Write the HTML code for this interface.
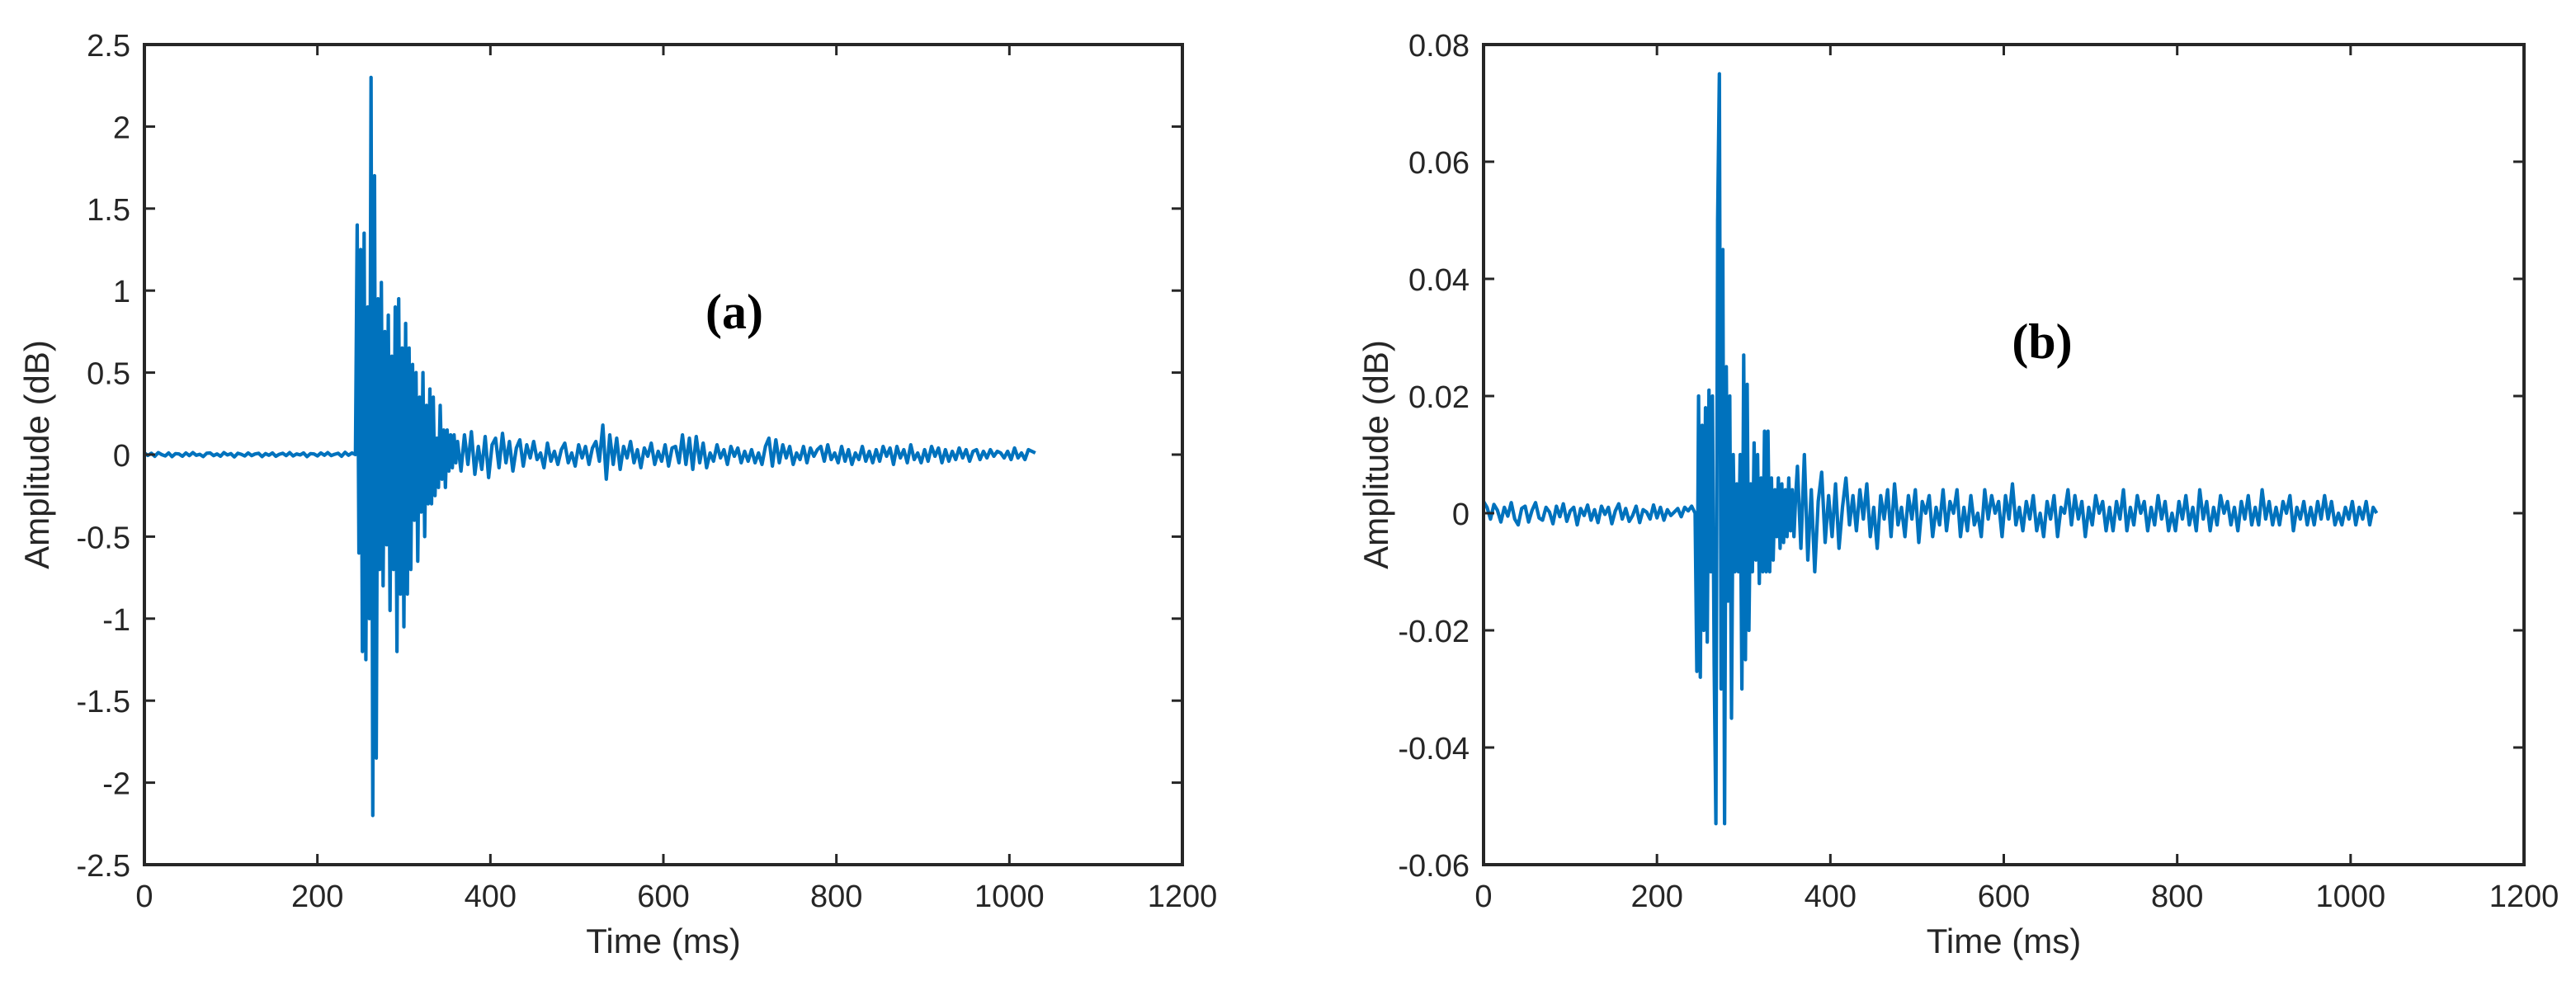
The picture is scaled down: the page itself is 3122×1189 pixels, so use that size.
<!DOCTYPE html>
<html><head><meta charset="utf-8"><style>
html,body{margin:0;padding:0;background:#fff;}
svg{display:block;}
text{font-family:"Liberation Sans",Arial,sans-serif;fill:#262626;}
</style></head><body>
<svg id="fig" width="3122" height="1189" viewBox="0 0 3122 1189" xmlns="http://www.w3.org/2000/svg"></svg>
<script>
// ---------- data ----------
const xTicks = [0,200,400,600,800,1000,1200];
const yTicksA = [-2.5,-2,-1.5,-1,-0.5,0,0.5,1,1.5,2,2.5];
const yTickLabelsA = ["-2.5","-2","-1.5","-1","-0.5","0","0.5","1","1.5","2","2.5"];
const yTicksB = [-0.06,-0.04,-0.02,0,0.02,0.04,0.06,0.08];
const yTickLabelsB = ["-0.06","-0.04","-0.02","0","0.02","0.04","0.06","0.08"];

// segment definitions: pre-onset (0..244 step 4), burst (244..360 step 2), tail (362.. step 4)
const preStart = 0, preStep = 4;
const burstStart = 244, burstStep = 2;
const tailStart = 362, tailStep = 4;

const preA = [0.01,-0.005,0.008,-0.01,0.012,0,-0.008,0.01,-0.012,0.006,0.004,-0.01,0.01,-0.006,0.012,-0.004,0.002,-0.012,0.008,0.01,-0.006,0.004,-0.01,0.012,-0.002,0.006,-0.014,0.008,0.002,-0.008,0.01,-0.006,0.004,0.008,-0.012,0.006,-0.004,0.01,-0.01,0.002,0.008,-0.006,0.012,-0.008,0.004,-0.002,0.01,-0.012,0.006,0.004,-0.008,0.01,-0.004,0.012,-0.006,0.002,0.008,-0.01,0.014,-0.004,0.01];
const burstA = [0,1.4,-0.6,1.25,-1.2,1.35,-1.25,0.9,-1.0,2.3,-2.2,1.7,-1.85,0.95,-0.7,1.05,-0.8,0.75,-0.55,0.85,-0.95,0.6,-0.7,0.9,-1.2,0.95,-0.85,0.65,-1.05,0.8,-0.85,0.65,-0.7,0.55,-0.4,0.5,-0.65,0.35,-0.35,0.5,-0.5,0.3,-0.3,0.4,-0.3,0.35,-0.25,0.1,-0.2,0.3,-0.15,0.15,-0.2,0.15,-0.1,0.12,-0.08,0.12,-0.05];
const tailA = [0.08,-0.1,0.12,-0.06,0.14,-0.12,0.05,-0.09,0.11,-0.14,0.06,0.1,-0.08,0.13,-0.05,0.08,-0.1,0.04,0.09,-0.07,0.06,-0.02,0.08,-0.03,0.01,-0.08,0.07,-0.04,0.02,-0.06,0.03,0.07,-0.05,0.01,-0.07,0.06,-0.02,0.05,-0.06,0.04,0.08,-0.04,0.18,-0.15,0.12,-0.06,0.1,-0.09,0.05,-0.02,0.08,-0.05,0.03,-0.08,0.04,-0.01,0.07,-0.06,0.02,-0.04,0.06,-0.07,0.04,0.05,-0.05,0.12,-0.06,0.1,-0.09,0.11,-0.05,0.07,-0.08,0.01,-0.04,0.06,-0.02,0.03,-0.06,0.05,-0.01,0.04,-0.05,0.02,-0.04,0.03,-0.05,0.01,-0.06,0.05,0.1,-0.07,0.09,-0.05,0.06,-0.02,0.05,-0.06,0.01,-0.03,0.05,-0.05,0.04,-0.01,0.03,0.05,-0.04,0.06,-0.03,0.01,-0.05,0.05,-0.04,0.03,-0.06,0.01,-0.03,0.05,-0.04,0.02,-0.05,0.03,-0.04,0.05,-0.01,0.04,-0.06,0.05,-0.02,0.03,-0.05,0.06,-0.03,0.01,-0.05,0.03,-0.04,0.05,-0.01,0.04,-0.05,0.03,-0.04,0.02,-0.03,0.04,-0.02,0.03,-0.04,0.02,0.03,-0.03,0.02,-0.02,0.03,-0.01,0.02,0.01,-0.02,0.02,-0.03,0.04,-0.02,0.01,-0.03,0.03,0.02,0.01];

const preB = [0.002,0.001,-0.001,0.0015,0.0005,-0.0015,0.001,-0.0005,0.0018,-0.001,-0.002,0.0008,0.0012,-0.0015,0.0005,0.0018,-0.0008,-0.0012,0.001,0.0002,-0.0018,0.0012,-0.0006,0.0016,-0.0014,0.0004,0.001,-0.002,0.0008,-0.0004,0.0014,-0.0012,0.0006,-0.0016,0.0012,-0.0002,0.001,-0.0018,0.0004,0.0016,-0.001,0.0008,-0.0014,-0.0004,0.0012,-0.0016,0.0006,0.0002,-0.001,0.0014,-0.0008,0.001,-0.0012,0.0006,-0.0004,0.0002,0.0008,-0.0006,0.001,0.0004,0.0012];
const burstB = [0,-0.027,0.02,-0.028,0.015,-0.02,0.018,-0.022,0.021,-0.01,0.02,-0.026,-0.053,0.05,0.075,-0.03,0.045,-0.053,0.025,-0.015,0.02,-0.035,0.01,-0.01,0.005,-0.01,0.01,-0.03,0.027,-0.025,0.022,-0.02,0.005,-0.01,0.012,-0.008,0.01,-0.012,0.006,-0.01,0.014,-0.01,0.014,-0.01,0.006,-0.008,0.004,-0.004,0.006,-0.006,0.005,-0.005,0.004,-0.004,0.006,-0.003,0.004,-0.004,0.003];
const tailB = [0.008,-0.006,0.01,-0.008,0.004,-0.01,0.002,0.007,-0.005,0.003,-0.004,0.005,-0.006,0.001,0.006,-0.002,0.003,-0.003,0.004,-0.001,0.005,-0.004,0.001,-0.006,0.003,-0.001,0.004,-0.004,0.005,-0.002,0.001,-0.004,0.003,-0.001,0.004,-0.005,0.002,0.0,0.003,-0.004,0.001,-0.002,0.004,-0.003,0.002,0.0,0.004,-0.004,0.001,-0.003,0.003,-0.002,0.0,-0.004,0.004,-0.001,0.003,0.0,0.002,-0.004,0.003,-0.001,0.005,-0.002,0.001,-0.003,0.002,-0.001,0.003,-0.003,0.0,-0.004,0.002,-0.001,0.003,-0.004,0.001,0.0,0.004,-0.002,0.003,-0.001,0.002,-0.004,0.001,-0.002,0.003,0.0,0.002,-0.003,0.001,-0.003,0.002,-0.001,0.004,-0.003,0.001,-0.002,0.003,0.0,0.002,-0.003,0.001,-0.002,0.003,-0.001,0.002,-0.003,0.0,-0.003,0.002,-0.001,0.003,-0.002,0.001,-0.003,0.004,-0.001,0.002,-0.003,0.001,-0.002,0.003,0.0,0.002,-0.002,0.001,-0.003,0.002,-0.001,0.003,-0.002,0.001,-0.002,0.004,-0.001,0.002,-0.002,0.001,-0.002,0.002,0.0,0.003,-0.003,0.001,-0.001,0.002,-0.002,0.001,-0.002,0.002,-0.001,0.003,-0.001,0.002,-0.002,0.0,-0.002,0.001,-0.001,0.002,-0.002,0.001,-0.001,0.002,-0.002,0.001,0.0];

// ---------- drawing ----------
const NS = "http://www.w3.org/2000/svg";
const svg = document.getElementById('fig');
function mk(tag, attrs, parent){const e=document.createElementNS(NS,tag);for(const k in attrs)e.setAttribute(k,attrs[k]);(parent||svg).appendChild(e);return e;}

function series(pre, burst, tail){
  const pts=[];
  pre.forEach((v,i)=>pts.push([preStart+i*preStep,v]));
  burst.forEach((v,i)=>pts.push([burstStart+i*burstStep,v]));
  tail.forEach((v,i)=>pts.push([tailStart+i*tailStep,v]));
  return pts;
}

function panel(id, L, R, T, B, ymin, ymax, yT, yL, pts, tag, tagX, tagY){
  const g = mk('g',{});
  
  
  const sx = v => L + (v-0)/(1200-0)*(R-L);
  const sy = v => B - (v-ymin)/(ymax-ymin)*(B-T);
  const d = pts.map((p,i)=>(i?'L':'M')+sx(p[0]).toFixed(1)+' '+sy(p[1]).toFixed(1)).join(' ');
  const path = mk('path',{d:d,fill:'none',stroke:'#0072BD','stroke-width':4.2,'stroke-linejoin':'round'},g);
  
  
  const box = mk('rect',{x:L,y:T,width:R-L,height:B-T,fill:'none',stroke:'#262626','stroke-width':4},g);
  
  
  xTicks.forEach(t=>{
    const x=sx(t);
    mk('line',{x1:x,y1:B,x2:x,y2:B-13,stroke:'#262626','stroke-width':3},g);
    mk('line',{x1:x,y1:T,x2:x,y2:T+13,stroke:'#262626','stroke-width':3},g);
    const tx = mk('text',{x:x,y:1099,'font-size':38,'text-anchor':'middle'},g);
    tx.textContent = String(t);
    
    
  });
  yT.forEach((t,i)=>{
    const y=sy(t);
    mk('line',{x1:L,y1:y,x2:L+13,y2:y,stroke:'#262626','stroke-width':3},g);
    mk('line',{x1:R,y1:y,x2:R-13,y2:y,stroke:'#262626','stroke-width':3},g);
    const tx = mk('text',{x:L-17,y:y+14,'font-size':38,'text-anchor':'end'},g);
    tx.textContent = yL[i];
    
    
  });
  const xl = mk('text',{x:(L+R)/2,y:1155,'font-size':42,'text-anchor':'middle'},g);
  xl.textContent='Time (ms)';
  
  
  const yx = L-116, yy=(T+B)/2;
  const yl = mk('text',{x:yx,y:yy,'font-size':42,'text-anchor':'middle',transform:'rotate(-90 '+yx+' '+yy+')'},g);
  yl.textContent='Amplitude (dB)';
  
  
  const tg = mk('text',{x:tagX,y:tagY,'font-size':60,'font-weight':'bold','text-anchor':'middle',style:'font-family:"Liberation Serif",serif;fill:#000'},g);
  tg.textContent=tag;
  
  
}

panel('panel-a',175,1433,54,1048,-2.5,2.5,yTicksA,yTickLabelsA,series(preA,burstA,tailA),'(a)',890,398);
panel('panel-b',1798,3059,54,1048,-0.06,0.08,yTicksB,yTickLabelsB,series(preB,burstB,tailB),'(b)',2475,434);
</script>
</body></html>
